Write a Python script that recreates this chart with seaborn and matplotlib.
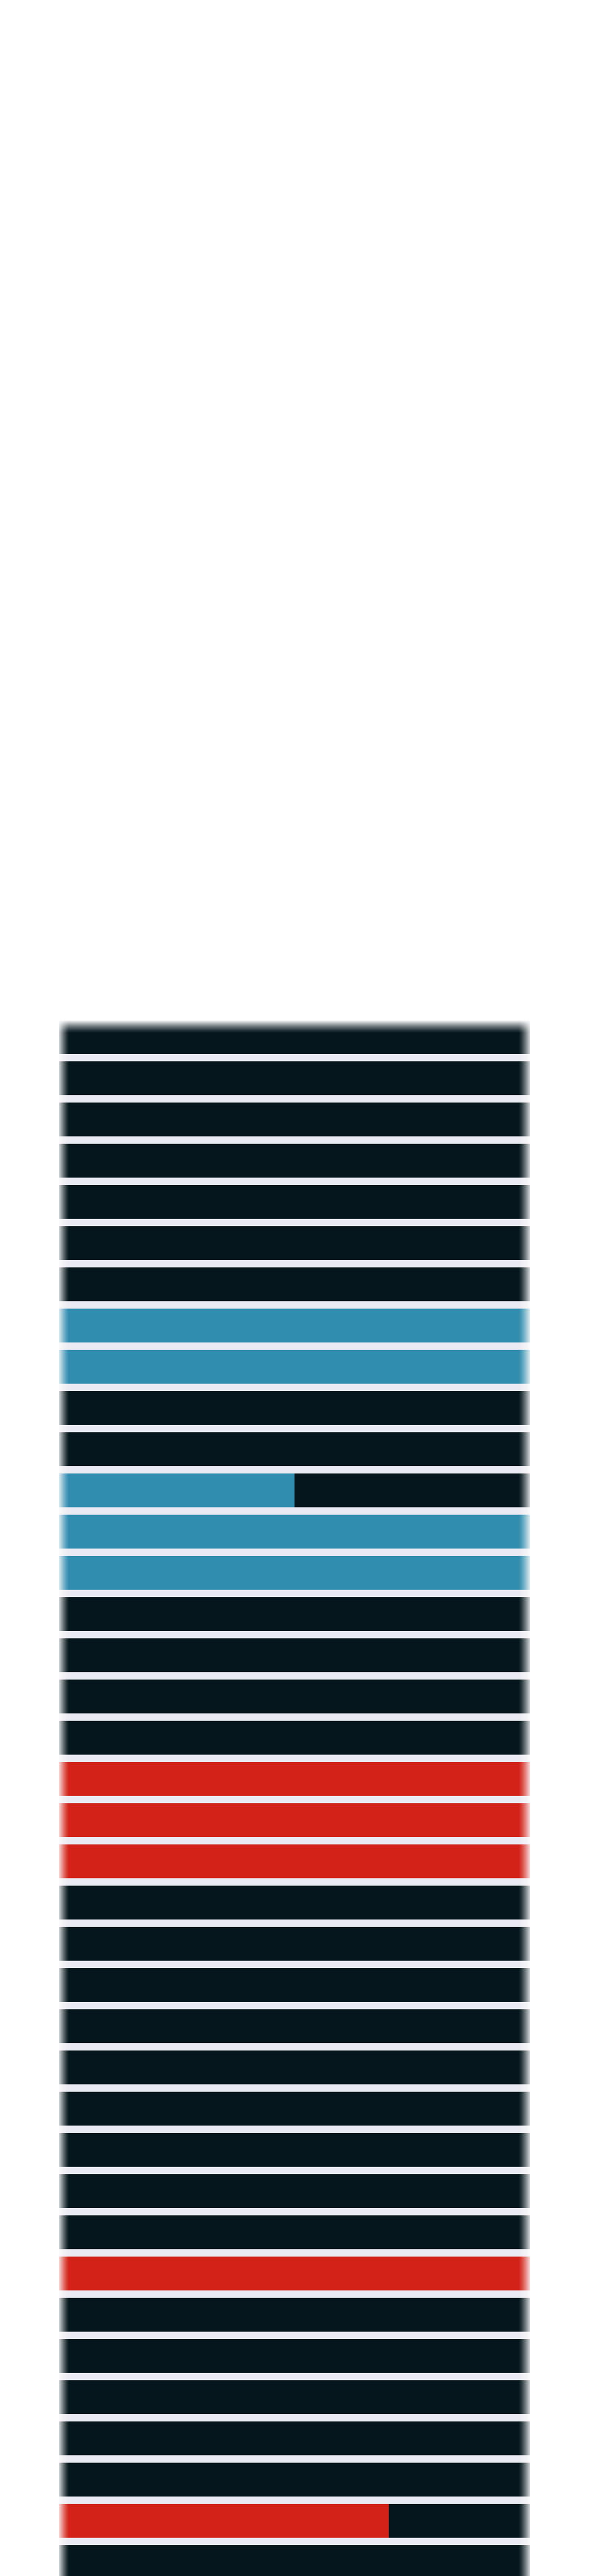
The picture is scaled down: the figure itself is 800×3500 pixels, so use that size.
import numpy as np
import pandas as pd
import matplotlib
matplotlib.use('Agg')
import matplotlib.pyplot as plt
import seaborn as sns

# dados: uma linha por faixa, fracao preenchida e grupo de cor
linhas = [f"{i:02d}" for i in range(38)]
preenchido = [0, 0, 0, 0, 0, 0, 0,
              1, 1,
              0, 0,
              0.5, 1, 1,
              0, 0, 0, 0,
              1, 1, 1,
              0, 0, 0, 0, 0, 0, 0, 0, 0,
              1,
              0, 0, 0, 0, 0,
              0.7,
              0]
grupo = (['nenhum'] * 7 + ['azul'] * 2 + ['nenhum'] * 2 + ['azul'] * 3 +
         ['nenhum'] * 4 + ['vermelho'] * 3 + ['nenhum'] * 9 + ['vermelho'] +
         ['nenhum'] * 5 + ['vermelho'] + ['nenhum'])
trilha = [1] * len(linhas)

ESCURO = '#05161d'
cores = {'azul': '#318db0', 'vermelho': '#d32218', 'nenhum': ESCURO}

df = pd.DataFrame({'linha': linhas, 'trilha': trilha,
                   'preenchido': preenchido, 'grupo': grupo})

sns.set_theme(style='darkgrid')

W, H = 800, 3500
fig = plt.figure(figsize=(W / 100, H / 100), dpi=100)
fig.patch.set_facecolor('white')

# eixo em pixels: x 80-720, topo 1386, passo 56, barra 46
esq, dir_, topo, base = 80, 720, 1386, 3500
passo, alt = 56, 46
ax = fig.add_axes([esq / W, 1 - base / H, (dir_ - esq) / W, (base - topo) / H])
ax.set_facecolor('#eaeaf2')

larg = alt / passo
sns.barplot(data=df, y='linha', x='trilha', orient='h', color=ESCURO,
            width=larg, errorbar=None, linewidth=0, saturation=1, ax=ax)
sns.barplot(data=df, y='linha', x='preenchido', orient='h', hue='grupo',
            palette=cores, dodge=False, width=larg, errorbar=None,
            linewidth=0, saturation=1, legend=False, ax=ax)

y_top = -(alt / 2) / passo
ax.set_xlim(0, 1)
ax.set_ylim(y_top + (base - topo) / passo, y_top)
ax.grid(False)
ax.set_xticks([])
ax.set_yticks([])
ax.set_xlabel('')
ax.set_ylabel('')
for s in ax.spines.values():
    s.set_visible(False)


# degrade branco nas bordas (esquerda, direita, topo)
def degrade(x0, y0, w, h, direcao, amax=0.85):
    n = 64
    t = np.linspace(0, 1, n)
    if direcao == 'esq':
        a = amax * (1 - t) ** 1.3
        img = np.ones((1, n, 4))
        img[0, :, 3] = a
    elif direcao == 'dir':
        a = amax * t ** 1.3
        img = np.ones((1, n, 4))
        img[0, :, 3] = a
    else:
        a = 1.0 * (1 - t) ** 1.3
        img = np.ones((n, 1, 4))
        img[:, 0, 3] = a
    o = fig.add_axes([x0 / W, 1 - (y0 + h) / H, w / W, h / H])
    o.imshow(img, aspect='auto', interpolation='bilinear')
    o.axis('off')


degrade(esq, topo, 14, base - topo, 'esq')
degrade(dir_ - 16, topo, 16, base - topo, 'dir')
degrade(esq, topo, dir_ - esq, 18, 'topo')

plt.savefig('out.png', dpi=100, facecolor='white')
print("Grafico salvo: out.png")
